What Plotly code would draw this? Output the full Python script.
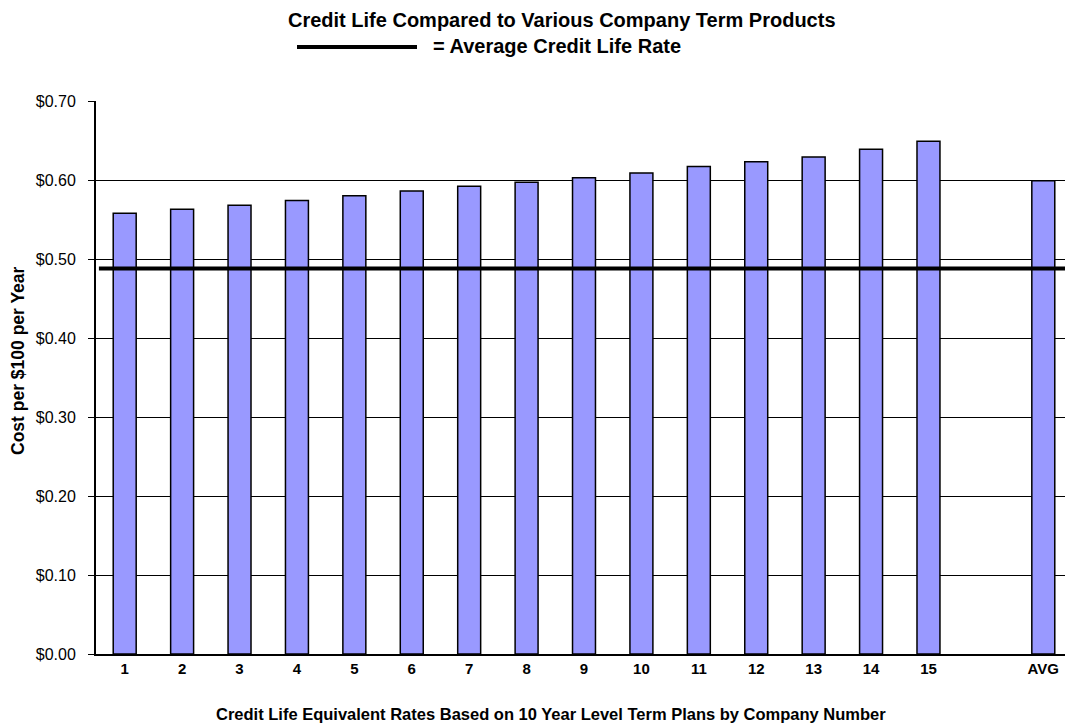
import plotly.graph_objects as go

categories = ["1", "2", "3", "4", "5", "6", "7", "8", "9", "10", "11", "12", "13", "14", "15", " ", "AVG"]
rates = [0.558, 0.563, 0.568, 0.574, 0.580, 0.586, 0.592, 0.597, 0.603, 0.609, 0.617, 0.623, 0.629, 0.639, 0.649, None, 0.599]
avg_credit_life_rate = 0.488
y_ticks = [0.0, 0.1, 0.2, 0.3, 0.4, 0.5, 0.6, 0.7]

FONT = "Arial, Liberation Sans, sans-serif"
W, H = 1065, 724
ML, MR, MT, MB = 96, 0, 101, 70

fig = go.Figure()
fig.add_trace(go.Bar(
    x=categories, y=rates, width=0.40,
    marker=dict(color="#9999FF", line=dict(color="black", width=1.5)),
    showlegend=False, hoverinfo="x+y",
))

# average credit life line across the plot
fig.add_shape(type="line", xref="paper", yref="y", x0=0.003, x1=1,
              y0=avg_credit_life_rate, y1=avg_credit_life_rate,
              line=dict(color="black", width=4))

pw = W - ML - MR
ph = H - MT - MB

def px_x(x):
    return (x - ML) / pw

def px_y(y):
    return (H - MB - y) / ph

# legend line in title
fig.add_shape(type="line", xref="paper", yref="paper",
              x0=px_x(297), x1=px_x(417), y0=px_y(47), y1=px_y(47),
              line=dict(color="black", width=4))

annotations = [
    dict(text="<b>Credit Life Compared to Various Company Term Products</b>",
         x=px_x(562), y=px_y(20), xref="paper", yref="paper", showarrow=False,
         xanchor="center", yanchor="middle", font=dict(family=FONT, size=20, color="black")),
    dict(text="<b>= Average Credit Life Rate</b>",
         x=px_x(431), y=px_y(46), xref="paper", yref="paper", showarrow=False,
         xanchor="left", yanchor="middle", font=dict(family=FONT, size=20, color="black")),
    dict(text="<b>Credit Life Equivalent Rates Based on 10 Year Level Term Plans by Company Number</b>",
         x=px_x(551), y=px_y(714), xref="paper", yref="paper", showarrow=False,
         xanchor="center", yanchor="middle", font=dict(family=FONT, size=16.5, color="black")),
    dict(text="<b>Cost per $100 per Year</b>",
         x=px_x(18), y=px_y(361), xref="paper", yref="paper", showarrow=False, textangle=-90,
         xanchor="center", yanchor="middle", font=dict(family=FONT, size=17.5, color="black")),
]

fig.update_layout(
    width=W, height=H,
    margin=dict(l=ML, r=MR, t=MT, b=MB, pad=0),
    plot_bgcolor="white", paper_bgcolor="white",
    annotations=annotations,
    bargap=0.6,
    xaxis=dict(
        type="category", range=[-0.5, 16.378],
        showgrid=False, showline=True, linecolor="black", linewidth=1.5,
        ticks="", tickfont=dict(family=FONT, size=15, color="black"),
        tickprefix="<b>", ticksuffix="</b>", fixedrange=True,
    ),
    yaxis=dict(
        range=[0, 0.7], tickvals=y_ticks, tickformat="$.2f",
        showgrid=True, gridcolor="black", gridwidth=1,
        showline=True, linecolor="black", linewidth=2,
        ticks="outside", ticklen=6, tickcolor="black", tickwidth=1,
        ticklabelstandoff=9,
        tickfont=dict(family=FONT, size=16, color="black"),
        zeroline=False, fixedrange=True,
    ),
)

fig.write_html("out.html")
